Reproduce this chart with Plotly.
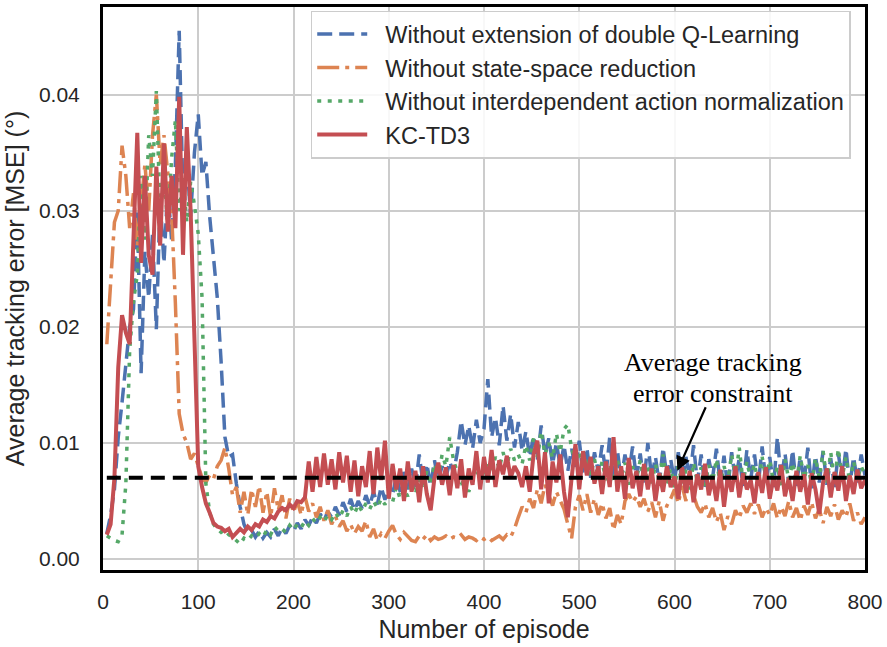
import plotly.graph_objects as go

# Episodes sampled every 4 steps
episodes = list(range(4, 801, 4))

no_double_q = [
    0.0022, 0.0038, 0.0060, 0.0105, 0.0135, 0.0165, 0.0200, 0.0215, 0.0300, 0.0160,
    0.0265, 0.0225, 0.0280, 0.0198, 0.0310, 0.0255, 0.0320, 0.0275, 0.0340, 0.0455,
    0.0310, 0.0345, 0.0295, 0.0350, 0.0383, 0.0330, 0.0342, 0.0295, 0.0260, 0.0225,
    0.0170, 0.0105, 0.0088, 0.0090, 0.0065, 0.0045, 0.0030, 0.0022, 0.0025, 0.0019,
    0.0024, 0.0018, 0.0023, 0.0019, 0.0026, 0.0020, 0.0027, 0.0022, 0.0029, 0.0024,
    0.0031, 0.0026, 0.0034, 0.0029, 0.0036, 0.0031, 0.0039, 0.0033, 0.0041, 0.0036,
    0.0045, 0.0038, 0.0049, 0.0041, 0.0052, 0.0042, 0.0050, 0.0044, 0.0055, 0.0046,
    0.0058, 0.0047, 0.0062, 0.0051, 0.0066, 0.0055, 0.0072, 0.0058, 0.0075, 0.0060,
    0.0078, 0.0062, 0.0090, 0.0065, 0.0082, 0.0063, 0.0085, 0.0068, 0.0080, 0.0070,
    0.0084, 0.0074, 0.0092, 0.0119, 0.0098, 0.0115, 0.0095, 0.0120, 0.0100, 0.0112,
    0.0155, 0.0105, 0.0122, 0.0098, 0.0132, 0.0102, 0.0125, 0.0096, 0.0118, 0.0093,
    0.0110, 0.0088, 0.0106, 0.0085, 0.0115, 0.0090, 0.0104, 0.0082, 0.0100, 0.0080,
    0.0098, 0.0076, 0.0095, 0.0078, 0.0102, 0.0074, 0.0096, 0.0070, 0.0092, 0.0075,
    0.0098, 0.0072, 0.0105, 0.0070, 0.0094, 0.0068, 0.0090, 0.0073, 0.0097, 0.0069,
    0.0091, 0.0066, 0.0100, 0.0070, 0.0088, 0.0065, 0.0096, 0.0071, 0.0086, 0.0067,
    0.0092, 0.0064, 0.0088, 0.0070, 0.0098, 0.0066, 0.0090, 0.0062, 0.0086, 0.0070,
    0.0095, 0.0065, 0.0089, 0.0061, 0.0092, 0.0068, 0.0087, 0.0063, 0.0094, 0.0069,
    0.0090, 0.0064, 0.0097, 0.0066, 0.0088, 0.0062, 0.0105, 0.0068, 0.0091, 0.0065,
    0.0094, 0.0063, 0.0088, 0.0067, 0.0096, 0.0061, 0.0089, 0.0066, 0.0093, 0.0064,
    0.0087, 0.0062, 0.0091, 0.0068, 0.0095, 0.0063, 0.0088, 0.0066, 0.0090, 0.0072,
]

no_state_reduction = [
    0.0185, 0.0240, 0.0290, 0.0300, 0.0356, 0.0330, 0.0285, 0.0315, 0.0270, 0.0305,
    0.0340, 0.0300, 0.0365, 0.0400, 0.0340, 0.0365, 0.0335, 0.0300, 0.0220, 0.0125,
    0.0108, 0.0100, 0.0086, 0.0091, 0.0080, 0.0070, 0.0066, 0.0072, 0.0069, 0.0080,
    0.0085, 0.0096, 0.0078, 0.0055, 0.0062, 0.0040, 0.0058, 0.0038, 0.0060, 0.0045,
    0.0063, 0.0040, 0.0058, 0.0036, 0.0061, 0.0042, 0.0055, 0.0035, 0.0052, 0.0040,
    0.0050, 0.0038, 0.0054, 0.0041, 0.0048, 0.0036, 0.0045, 0.0033, 0.0042, 0.0030,
    0.0037, 0.0028, 0.0033, 0.0024, 0.0030, 0.0022, 0.0028, 0.0024, 0.0033, 0.0019,
    0.0026, 0.0016, 0.0022, 0.0018, 0.0024, 0.0029, 0.0021, 0.0017, 0.0023, 0.0019,
    0.0016, 0.0015, 0.0020, 0.0017, 0.0021, 0.0016, 0.0019, 0.0017, 0.0018, 0.0020,
    0.0017, 0.0019, 0.0018, 0.0021, 0.0017, 0.0019, 0.0018, 0.0016, 0.0019, 0.0017,
    0.0019, 0.0016, 0.0018, 0.0020, 0.0017, 0.0021, 0.0019, 0.0026, 0.0036, 0.0045,
    0.0040, 0.0052, 0.0044, 0.0060, 0.0048, 0.0064, 0.0055, 0.0046, 0.0058, 0.0050,
    0.0043, 0.0030, 0.0018, 0.0045, 0.0055, 0.0042, 0.0056, 0.0040, 0.0052, 0.0038,
    0.0048, 0.0035, 0.0044, 0.0025, 0.0038, 0.0030, 0.0050, 0.0056, 0.0049, 0.0054,
    0.0045, 0.0052, 0.0041, 0.0049, 0.0036, 0.0050, 0.0033, 0.0046, 0.0052, 0.0060,
    0.0048, 0.0063, 0.0050, 0.0075, 0.0055, 0.0045, 0.0040, 0.0048, 0.0036, 0.0044,
    0.0032, 0.0040, 0.0025, 0.0037, 0.0030, 0.0042, 0.0035, 0.0046, 0.0040, 0.0048,
    0.0039, 0.0047, 0.0036, 0.0044, 0.0038, 0.0048, 0.0035, 0.0045, 0.0037, 0.0050,
    0.0036, 0.0044, 0.0033, 0.0046, 0.0038, 0.0049, 0.0035, 0.0043, 0.0031, 0.0045,
    0.0037, 0.0047, 0.0034, 0.0042, 0.0036, 0.0048, 0.0033, 0.0040, 0.0030, 0.0036,
]

no_action_norm = [
    0.0020, 0.0018, 0.0016, 0.0015, 0.0021, 0.0065, 0.0180, 0.0222, 0.0245, 0.0330,
    0.0275, 0.0365, 0.0330, 0.0403, 0.0295, 0.0335, 0.0285, 0.0345, 0.0378, 0.0300,
    0.0328, 0.0290, 0.0325, 0.0305, 0.0280, 0.0225, 0.0065, 0.0040, 0.0030, 0.0026,
    0.0023, 0.0025, 0.0021, 0.0019, 0.0016, 0.0013, 0.0018, 0.0016, 0.0020, 0.0018,
    0.0022, 0.0019, 0.0025, 0.0021, 0.0028, 0.0024, 0.0026, 0.0023, 0.0029, 0.0025,
    0.0030, 0.0027, 0.0033, 0.0029, 0.0035, 0.0031, 0.0036, 0.0032, 0.0038, 0.0034,
    0.0040, 0.0035, 0.0042, 0.0037, 0.0045, 0.0039, 0.0047, 0.0041, 0.0048, 0.0043,
    0.0050, 0.0044, 0.0052, 0.0047, 0.0055, 0.0049, 0.0062, 0.0052, 0.0060, 0.0054,
    0.0066, 0.0056, 0.0070, 0.0060, 0.0076, 0.0064, 0.0082, 0.0070, 0.0090, 0.0080,
    0.0105, 0.0085, 0.0075, 0.0064, 0.0070, 0.0058, 0.0068, 0.0072, 0.0078, 0.0070,
    0.0082, 0.0075, 0.0088, 0.0078, 0.0092, 0.0080, 0.0095, 0.0085, 0.0090, 0.0082,
    0.0098, 0.0085, 0.0104, 0.0088, 0.0110, 0.0090, 0.0100, 0.0087, 0.0108, 0.0092,
    0.0112, 0.0116, 0.0095, 0.0085, 0.0092, 0.0078, 0.0088, 0.0072, 0.0086, 0.0070,
    0.0084, 0.0068, 0.0082, 0.0066, 0.0086, 0.0070, 0.0083, 0.0064, 0.0080, 0.0068,
    0.0085, 0.0066, 0.0079, 0.0063, 0.0082, 0.0067, 0.0090, 0.0065, 0.0078, 0.0062,
    0.0080, 0.0065, 0.0077, 0.0060, 0.0083, 0.0066, 0.0079, 0.0063, 0.0081, 0.0067,
    0.0086, 0.0064, 0.0080, 0.0068, 0.0090, 0.0070, 0.0096, 0.0066, 0.0084, 0.0069,
    0.0082, 0.0065, 0.0088, 0.0070, 0.0085, 0.0066, 0.0080, 0.0063, 0.0086, 0.0068,
    0.0083, 0.0065, 0.0089, 0.0069, 0.0081, 0.0064, 0.0087, 0.0070, 0.0093, 0.0066,
    0.0092, 0.0068, 0.0095, 0.0070, 0.0088, 0.0066, 0.0084, 0.0069, 0.0080, 0.0072,
]

kc_td3 = [
    0.0021, 0.0030, 0.0070, 0.0165, 0.0210, 0.0195, 0.0185, 0.0278, 0.0367, 0.0255,
    0.0330, 0.0262, 0.0245, 0.0338, 0.0270, 0.0358, 0.0282, 0.0330, 0.0285, 0.0398,
    0.0262, 0.0372, 0.0300, 0.0190, 0.0080, 0.0062, 0.0048, 0.0040, 0.0031, 0.0028,
    0.0027, 0.0024, 0.0026, 0.0019, 0.0022, 0.0026, 0.0023, 0.0028, 0.0025, 0.0030,
    0.0028, 0.0034, 0.0032, 0.0037, 0.0035, 0.0041, 0.0044, 0.0042, 0.0047, 0.0044,
    0.0050, 0.0049, 0.0053, 0.0084, 0.0058, 0.0088, 0.0062, 0.0091, 0.0064, 0.0086,
    0.0060, 0.0092, 0.0066, 0.0089, 0.0058, 0.0085, 0.0054, 0.0080, 0.0062, 0.0093,
    0.0056, 0.0096, 0.0068, 0.0102, 0.0052, 0.0082, 0.0060, 0.0078, 0.0050, 0.0084,
    0.0058, 0.0076, 0.0049, 0.0080, 0.0056, 0.0042, 0.0070, 0.0083, 0.0064, 0.0079,
    0.0055, 0.0081, 0.0061, 0.0086, 0.0053, 0.0078, 0.0064, 0.0093, 0.0060, 0.0088,
    0.0066, 0.0094, 0.0062, 0.0085, 0.0073, 0.0089, 0.0070, 0.0080, 0.0074, 0.0062,
    0.0080, 0.0058, 0.0090, 0.0102, 0.0060, 0.0092, 0.0048, 0.0084, 0.0066, 0.0090,
    0.0058, 0.0036, 0.0070, 0.0099, 0.0060, 0.0093, 0.0072, 0.0088, 0.0065, 0.0080,
    0.0056, 0.0084, 0.0062, 0.0105, 0.0058, 0.0080, 0.0052, 0.0087, 0.0061, 0.0076,
    0.0054, 0.0082, 0.0060, 0.0078, 0.0050, 0.0074, 0.0058, 0.0080, 0.0062, 0.0071,
    0.0052, 0.0079, 0.0057, 0.0076, 0.0049, 0.0073, 0.0060, 0.0082, 0.0055, 0.0070,
    0.0050, 0.0077, 0.0045, 0.0072, 0.0058, 0.0080, 0.0053, 0.0074, 0.0060, 0.0068,
    0.0048, 0.0075, 0.0057, 0.0079, 0.0052, 0.0071, 0.0059, 0.0081, 0.0054, 0.0070,
    0.0050, 0.0076, 0.0058, 0.0073, 0.0047, 0.0074, 0.0060, 0.0039, 0.0066, 0.0078,
    0.0053, 0.0075, 0.0059, 0.0080, 0.0050, 0.0072, 0.0056, 0.0077, 0.0061, 0.0068,
]

constraint_x = [4, 800]
constraint_y = [0.007, 0.007]

series = [
    ("Without extension of double Q-Learning", no_double_q, "#4C72B0", "15px,7px", 3.5),
    ("Without state-space reduction", no_state_reduction, "#DD8452", "22px,6px,4px,6px", 3.5),
    ("Without interdependent action normalization", no_action_norm, "#55A868", "4px,6.5px", 3.5),
    ("KC-TD3", kc_td3, "#C44E52", "solid", 4),
]

TEXT = "#262626"
SANS = "Liberation Sans, Arial, sans-serif"
SERIF = "Liberation Serif, Times New Roman, serif"
PAD = "\u00a0\u00a0"  # small gap between legend sample and label

fig = go.Figure()
for name, vals, color, dash, w in series:
    fig.add_trace(go.Scatter(
        x=episodes, y=vals, mode="lines", name=PAD + name,
        line=dict(color=color, width=w, dash=dash),
    ))

fig.add_trace(go.Scatter(
    x=constraint_x, y=constraint_y, mode="lines", showlegend=False,
    line=dict(color="black", width=4, dash="14px,8px"),
))

axis_common = dict(
    showline=True, linecolor="black", linewidth=3, mirror=True,
    showgrid=True, gridcolor="#cccccc", gridwidth=2,
    zeroline=False, ticks="",
    tickfont=dict(family=SANS, size=21, color=TEXT),
)

fig.update_layout(
    width=887, height=647,
    margin=dict(l=103, r=21, t=4, b=77),
    paper_bgcolor="white", plot_bgcolor="white",
    showlegend=True,
    legend=dict(
        x=0.2726, y=0.9935, xanchor="left", yanchor="top",
        bgcolor="rgba(255,255,255,0.85)", bordercolor="#cccccc", borderwidth=1.5,
        font=dict(family=SANS, size=23.5, color=TEXT),
        itemwidth=50,
    ),
    xaxis=dict(
        range=[0, 800], tickmode="array", tickvals=list(range(0, 801, 100)),
        title=dict(text="Number of episode", font=dict(family=SANS, size=25, color=TEXT), standoff=9),
        ticklabelstandoff=11,
        **axis_common,
    ),
    yaxis=dict(
        range=[-0.00094, 0.04754], tickmode="array", tickvals=[0, 0.01, 0.02, 0.03, 0.04],
        tickformat=".2f",
        title=dict(text="Average tracking error [MSE] (°)", font=dict(family=SANS, size=25, color=TEXT), standoff=8),
        ticklabelstandoff=16,
        **axis_common,
    ),
    annotations=[
        dict(x=603, y=0.0076, xref="x", yref="y", text="", showarrow=True,
             ax=29, ay=-65, axref="pixel", ayref="pixel",
             arrowhead=2, arrowsize=1.3, arrowwidth=2.2, arrowcolor="black"),
        dict(x=640, y=0.0169, xref="x", yref="y", showarrow=False,
             text="Average tracking",
             font=dict(family=SERIF, size=26, color="black")),
        dict(x=640, y=0.0143, xref="x", yref="y", showarrow=False,
             text="error constraint",
             font=dict(family=SERIF, size=26, color="black")),
    ],
)

fig.write_html("out.html")
